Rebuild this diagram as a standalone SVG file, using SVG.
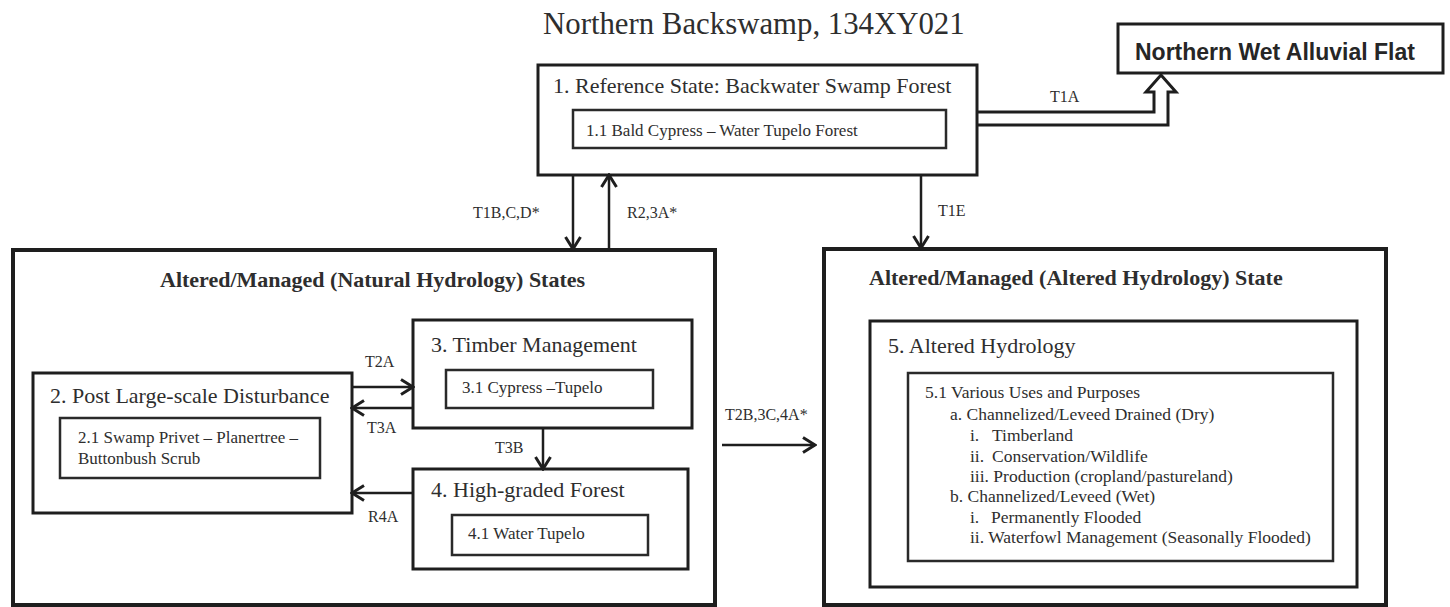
<svg xmlns="http://www.w3.org/2000/svg" width="1450" height="607" viewBox="0 0 1450 607">
<defs>
<marker id="ah" markerUnits="userSpaceOnUse" markerWidth="16" markerHeight="18" viewBox="0 0 16 18" refX="14" refY="9" orient="auto">
<path d="M2,1.5 L14,9 L2,16.5" fill="none" stroke="#1e1e1e" stroke-width="3"/>
</marker>
</defs>
<style>
text{font-family:"Liberation Serif","Times New Roman",serif;fill:#2e2e2e}
.title{font-size:30.8px}
.st{font-size:22px}
.bt{font-size:22px;font-weight:bold}
.sub{font-size:17px}
.lst{font-size:17.5px}
.lbl{font-size:16px}
.big{fill:#fff;stroke:#1e1e1e;stroke-width:4}
.box{fill:#fff;stroke:#1e1e1e;stroke-width:3}
.inr{fill:#fff;stroke:#2a2a2a;stroke-width:2.5}
.arr{fill:none;stroke:#1e1e1e;stroke-width:2.5;marker-end:url(#ah)}
.flat{font-family:"Liberation Sans",Arial,sans-serif;font-size:23px;font-weight:bold;fill:#262626}
</style>
<rect width="1450" height="607" fill="#fff"/>
<text class="title" x="543" y="34">Northern Backswamp, 134XY021</text>

<g id="node-flat">
<rect class="box" x="1118" y="24" width="325" height="49"/>
<text class="flat" x="1135" y="60">Northern Wet Alluvial Flat</text>
</g>

<g id="node-1">
<rect class="box" x="538" y="65" width="439" height="110"/>
<text class="st" x="553" y="93">1. Reference State: Backwater Swamp Forest</text>
<rect class="inr" x="573" y="110" width="373" height="38"/>
<text class="sub" x="586" y="136">1.1 Bald Cypress – Water Tupelo Forest</text>
</g>

<g id="group-natural">
<rect class="big" x="13" y="250" width="702" height="355"/>
<text class="bt" x="160" y="287">Altered/Managed (Natural Hydrology) States</text>
</g>

<g id="node-2">
<rect class="box" x="33" y="373" width="319" height="140"/>
<text class="st" x="50" y="403">2. Post Large-scale Disturbance</text>
<rect class="inr" x="60" y="418" width="260" height="60"/>
<text class="sub" x="78" y="443">2.1 Swamp Privet – Planertree –</text>
<text class="sub" x="78" y="464">Buttonbush Scrub</text>
</g>

<g id="node-3">
<rect class="box" x="413" y="320" width="279" height="108"/>
<text class="st" x="431" y="352">3. Timber Management</text>
<rect class="inr" x="446" y="370" width="207" height="38"/>
<text class="sub" x="462" y="393">3.1 Cypress –Tupelo</text>
</g>

<g id="node-4">
<rect class="box" x="413" y="469" width="275" height="100"/>
<text class="st" x="431" y="497">4. High-graded Forest</text>
<rect class="inr" x="452" y="515" width="196" height="40"/>
<text class="sub" x="468" y="539">4.1 Water Tupelo</text>
</g>

<g id="group-altered">
<rect class="big" x="824" y="249" width="562" height="356"/>
<text class="bt" x="869" y="285">Altered/Managed (Altered Hydrology) State</text>
</g>

<g id="node-5">
<rect class="box" x="870" y="321" width="487" height="266"/>
<text class="st" x="888" y="353">5. Altered Hydrology</text>
<rect class="inr" x="908" y="373" width="425" height="188"/>
<text class="lst" x="925" y="398">5.1 Various Uses and Purposes</text>
<text class="lst" x="950" y="420">a. Channelized/Leveed Drained (Dry)</text>
<text class="lst" x="970" y="441">i.</text><text class="lst" x="992" y="441">Timberland</text>
<text class="lst" x="970" y="462">ii.</text><text class="lst" x="992" y="462">Conservation/Wildlife</text>
<text class="lst" x="970" y="482">iii. Production (cropland/pastureland)</text>
<text class="lst" x="950" y="502">b. Channelized/Leveed (Wet)</text>
<text class="lst" x="970" y="523">i.</text><text class="lst" x="991" y="523">Permanently Flooded</text>
<text class="lst" x="970" y="543">ii. Waterfowl Management (Seasonally Flooded)</text>
</g>

<g id="connectors">
<path d="M977,112 H1154 V92 H1146 L1161,75 L1176,92 H1168 V125 H977" fill="none" stroke="#1e1e1e" stroke-width="3" stroke-linejoin="miter"/>
<text class="lbl" x="1050" y="102">T1A</text>
<line class="arr" x1="573" y1="175" x2="573" y2="249"/>
<text class="lbl" x="473" y="218">T1B,C,D*</text>
<line class="arr" x1="609" y1="249" x2="609" y2="175"/>
<text class="lbl" x="627" y="218">R2,3A*</text>
<line class="arr" x1="921" y1="175" x2="921" y2="248"/>
<text class="lbl" x="938" y="216">T1E</text>
<line class="arr" x1="352" y1="387" x2="413" y2="387"/>
<text class="lbl" x="365" y="367">T2A</text>
<line class="arr" x1="413" y1="408" x2="352" y2="408"/>
<text class="lbl" x="367" y="433">T3A</text>
<line class="arr" x1="543" y1="428" x2="543" y2="469"/>
<text class="lbl" x="495" y="453">T3B</text>
<line class="arr" x1="413" y1="493" x2="352" y2="493"/>
<text class="lbl" x="368" y="522">R4A</text>
<line class="arr" x1="722" y1="445" x2="815" y2="445"/>
<text class="lbl" x="725" y="420">T2B,3C,4A*</text>
</g>
</svg>
